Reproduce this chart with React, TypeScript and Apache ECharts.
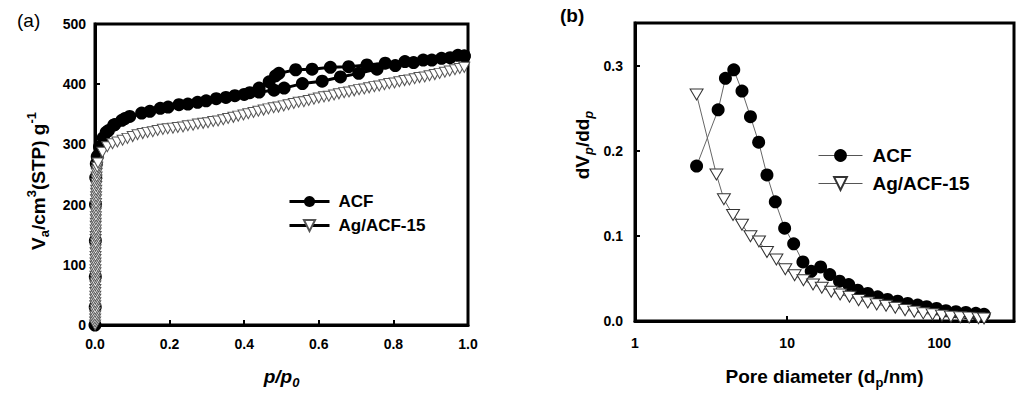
import React, { useEffect, useRef } from 'react';
import * as echarts from 'echarts';

const FONT = '"Liberation Sans", Arial, Helvetica, sans-serif';
const TRI = 'path://M0,0L10,0L5,8.66Z';

// (a) N2 isotherms: [p/p0, Va]
const acfAdsorption: [number, number][] = [
  [0, 0], [0.0006, 30], [0.0008, 80], [0.001, 140], [0.0013, 200], [0.002, 245], [0.0035, 268],
  [0.006, 280], [0.012, 296], [0.022, 311], [0.036, 323], [0.053, 333], [0.072, 340], [0.093, 346.5],
  [0.147, 355], [0.196, 362], [0.249, 367], [0.298, 372.5], [0.351, 378], [0.4, 383], [0.44, 387],
  [0.48, 390], [0.507, 393.5], [0.556, 401], [0.609, 405], [0.658, 412], [0.707, 418], [0.756, 425],
  [0.805, 431], [0.854, 436], [0.903, 440], [0.952, 444], [0.99, 447],
];
const acfDesorption: [number, number][] = [
  [0.99, 447], [0.973, 448], [0.929, 443], [0.88, 440], [0.831, 437.6], [0.778, 435], [0.729, 432],
  [0.68, 429], [0.631, 428], [0.582, 425], [0.538, 424], [0.493, 418], [0.484, 414], [0.467, 404],
  [0.44, 393.5], [0.415, 386], [0.375, 381], [0.325, 376], [0.275, 370], [0.225, 366], [0.175, 360],
  [0.125, 352], [0.08, 343], [0.05, 332], [0.03, 320],
];
const agIsotherm: [number, number][] = [
  [0.0003, 0], [0.0004, 5], [0.0005, 10], [0.0006, 15], [0.0006, 21], [0.0007, 26], [0.0007, 32],
  [0.0008, 37], [0.0008, 43], [0.0009, 48], [0.0009, 54], [0.001, 59], [0.001, 65], [0.0011, 70],
  [0.0011, 76], [0.0012, 81], [0.0012, 87], [0.0013, 92], [0.0013, 98], [0.0014, 103], [0.0014, 109],
  [0.0015, 114], [0.0015, 120], [0.0016, 125], [0.0016, 131], [0.0017, 136], [0.0018, 142],
  [0.0018, 147], [0.0019, 153], [0.002, 158], [0.002, 164], [0.0021, 169], [0.0022, 175],
  [0.0023, 180], [0.0024, 186], [0.0025, 191], [0.0026, 197], [0.0027, 202], [0.0028, 208],
  [0.003, 213], [0.0031, 219], [0.0033, 224], [0.0035, 230], [0.0037, 235], [0.004, 241],
  [0.0043, 246], [0.0047, 252], [0.0052, 257], [0.006, 262], [0.008, 269],
  [0.02, 287], [0.033, 296], [0.047, 301], [0.06, 304], [0.074, 307], [0.087, 310], [0.101, 313],
  [0.114, 316], [0.128, 318], [0.141, 320], [0.155, 321], [0.168, 323], [0.182, 325], [0.195, 326],
  [0.209, 327], [0.222, 328], [0.236, 329], [0.249, 331], [0.263, 332], [0.276, 334], [0.29, 335],
  [0.303, 336], [0.317, 338], [0.33, 339], [0.344, 341], [0.357, 343], [0.371, 345], [0.384, 347],
  [0.398, 349], [0.411, 351], [0.425, 353], [0.438, 355], [0.452, 357], [0.465, 359], [0.479, 361],
  [0.492, 362], [0.506, 364], [0.519, 366], [0.533, 368], [0.546, 370], [0.56, 371], [0.573, 373],
  [0.587, 375], [0.6, 377], [0.614, 379], [0.627, 380], [0.641, 382], [0.654, 384], [0.668, 386],
  [0.681, 387], [0.695, 389], [0.708, 391], [0.722, 392], [0.735, 394], [0.749, 396], [0.762, 397],
  [0.776, 399], [0.789, 401], [0.803, 402], [0.816, 404], [0.83, 406], [0.843, 407], [0.857, 409],
  [0.87, 411], [0.884, 412], [0.897, 414], [0.911, 416], [0.924, 418], [0.938, 420], [0.951, 422],
  [0.965, 424], [0.978, 426], [0.99, 428],
];

// (b) pore size distribution: [dp (nm), dVp/ddp]
const psdACF: [number, number][] = [
  [2.54, 0.182], [3.52, 0.248], [3.93, 0.285], [4.46, 0.295], [5.05, 0.27], [5.74, 0.24], [6.5, 0.21],
  [7.37, 0.1715], [8.36, 0.14], [9.63, 0.109], [11.04, 0.0907], [12.7, 0.0693], [14.4, 0.0584],
  [16.6, 0.0635], [19.06, 0.0545], [22.1, 0.0467], [25.4, 0.0428], [29.1, 0.0362], [33.9, 0.0323],
  [39.4, 0.0284], [45.7, 0.0253], [53.3, 0.0233], [62, 0.0206], [72.1, 0.0187], [82.6, 0.0168],
  [96, 0.0148], [110.7, 0.0121], [128.7, 0.011], [149.6, 0.0101], [174, 0.009], [197, 0.0078],
];
const psdAg: [number, number][] = [
  [2.54, 0.266], [3.43, 0.172], [3.84, 0.143], [4.41, 0.1245], [5.05, 0.113], [5.74, 0.0996],
  [6.53, 0.0934], [7.37, 0.081], [8.5, 0.0723], [9.73, 0.0607], [11.2, 0.0537], [12.8, 0.0478],
  [14.8, 0.0428], [16.9, 0.039], [19.5, 0.0343], [22.3, 0.0311], [25.7, 0.0284], [29.5, 0.0245],
  [33.9, 0.0218], [38.8, 0.0195], [44.7, 0.018], [51.4, 0.0156], [59.6, 0.0128], [68.5, 0.011],
  [78.5, 0.009], [90.4, 0.0078], [104.2, 0.0063], [119.3, 0.0051], [137.3, 0.0043], [157.3, 0.004],
  [181, 0.0032], [197, 0.003],
];

const legendNamesA = ['ACF', 'Ag/ACF-15'];
const legendNamesB = ['ACF ', 'Ag/ACF-15 '];
const logTickLabels = [1, 10, 100];

const axisLineStyle = { lineStyle: { color: '#000', width: 3 } };
const axisTickStyle = { inside: true, length: 5, lineStyle: { color: '#000', width: 2 } };
const labelBase = { color: '#000', fontWeight: 'bold' as const, fontSize: 14, fontFamily: FONT };

const richTitle = {
  b: { fontSize: 19, fontWeight: 'bold', fontFamily: FONT, fill: '#000', color: '#000', lineHeight: 26, verticalAlign: 'middle' },
  i: { fontSize: 19, fontWeight: 'bold', fontStyle: 'italic', fontFamily: FONT, fill: '#000', color: '#000', lineHeight: 26, verticalAlign: 'middle' },
  sub: { fontSize: 13, fontWeight: 'bold', fontFamily: FONT, fill: '#000', color: '#000', lineHeight: 13, verticalAlign: 'bottom' },
  isub: { fontSize: 13, fontWeight: 'bold', fontStyle: 'italic', fontFamily: FONT, fill: '#000', color: '#000', lineHeight: 13, verticalAlign: 'bottom' },
  sup: { fontSize: 13, fontWeight: 'bold', fontFamily: FONT, fill: '#000', color: '#000', lineHeight: 13, verticalAlign: 'top' },
};

export default function App() {
  const ref = useRef<HTMLDivElement>(null);
  useEffect(() => {
    document.body.style.margin = '0';
    const chart = echarts.init(ref.current!, null, { renderer: 'svg' });
    const option: any = {
      animation: false,
      backgroundColor: '#fff',
      grid: [
        { left: 95, top: 24, width: 373, height: 302, show: true, borderColor: '#000', borderWidth: 3 },
        { left: 635, top: 23, width: 379, height: 300, show: true, borderColor: '#000', borderWidth: 3 },
      ],
      xAxis: [
        {
          type: 'value', gridIndex: 0, min: 0, max: 1, interval: 0.2,
          axisLine: axisLineStyle, axisTick: axisTickStyle, splitLine: { show: false },
          axisLabel: { ...labelBase, margin: 12, formatter: (v: number) => v.toFixed(1) },
          name: '{i|p/p}{isub|0}', nameLocation: 'middle', nameGap: 38,
          nameTextStyle: { rich: richTitle },
        },
        {
          type: 'log', logBase: 10, gridIndex: 1, min: 1, max: 310,
          axisLine: axisLineStyle, axisTick: axisTickStyle, splitLine: { show: false }, minorTick: { show: false },
          axisLabel: {
            ...labelBase, margin: 15,
            formatter: (v: number) => (logTickLabels.includes(Math.round(v)) ? String(Math.round(v)) : ''),
          },
          name: '{b|Pore diameter (d}{sub|p}{b|/nm)}', nameLocation: 'middle', nameGap: 42,
          nameTextStyle: { rich: richTitle },
        },
      ],
      yAxis: [
        {
          type: 'value', gridIndex: 0, min: 0, max: 500, interval: 100,
          axisLine: axisLineStyle, axisTick: axisTickStyle, splitLine: { show: false },
          axisLabel: { ...labelBase, margin: 9 },
        },
        {
          type: 'value', gridIndex: 1, min: 0, max: 0.35, interval: 0.1,
          axisLine: axisLineStyle, axisTick: axisTickStyle, splitLine: { show: false },
          axisLabel: { ...labelBase, margin: 12, formatter: (v: number) => (v > 0.31 ? '' : v.toFixed(1)) },
        },
      ],
      legend: [
        {
          data: legendNamesA, orient: 'vertical', left: 288, top: 193, itemWidth: 40, itemHeight: 14, itemGap: 7,
          padding: 0, selectedMode: false,
          lineStyle: { color: '#000', width: 3 },
          textStyle: { fontSize: 17, fontWeight: 'bold', fontFamily: FONT, color: '#000', padding: [0, 0, 0, 4] },
        },
        {
          data: legendNamesB, orient: 'vertical', left: 818, top: 146, itemWidth: 44, itemHeight: 16, itemGap: 9,
          padding: 0, selectedMode: false,
          formatter: (n: string) => n.trim(),
          lineStyle: { color: '#555', width: 1 },
          textStyle: { fontSize: 19, fontWeight: 'bold', fontFamily: FONT, color: '#000', padding: [0, 0, 0, 5] },
        },
      ],
      graphic: [
        { type: 'text', left: 17, top: 11, style: { text: '(a)', fontSize: 19, fontFamily: FONT, fill: '#000' } },
        { type: 'text', left: 560, top: 6, style: { text: '(b)', fontSize: 19, fontWeight: 'bold', fontFamily: FONT, fill: '#000' } },
        {
          type: 'text', x: 38, y: 181, rotation: Math.PI / 2,
          style: {
            text: '{b|V}{sub|a}{b|/cm}{sup|3}{b|(STP) g}{sup|-1}', rich: richTitle,
            align: 'center', verticalAlign: 'middle',
          },
        },
        {
          type: 'text', x: 582, y: 145, rotation: Math.PI / 2,
          style: {
            text: '{b|dV}{isub|p}{b|/dd}{isub|p}', rich: richTitle,
            align: 'center', verticalAlign: 'middle',
          },
        },
      ],
      series: [
        {
          name: 'ACF', type: 'line', xAxisIndex: 0, yAxisIndex: 0, data: acfAdsorption,
          symbol: 'circle', symbolSize: 13, itemStyle: { color: '#000' }, lineStyle: { color: '#000', width: 3 }, z: 2,
        },
        {
          name: 'ACF', type: 'line', xAxisIndex: 0, yAxisIndex: 0, data: acfDesorption,
          symbol: 'circle', symbolSize: 13, itemStyle: { color: '#000' }, lineStyle: { color: '#000', width: 3 }, z: 2,
        },
        {
          name: 'Ag/ACF-15', type: 'line', xAxisIndex: 0, yAxisIndex: 0, data: agIsotherm,
          symbol: TRI, symbolSize: [11, 10],
          itemStyle: { color: '#fff', borderColor: '#555', borderWidth: 1 },
          lineStyle: { color: '#333', width: 1.5 }, z: 3,
        },
        {
          name: 'ACF ', type: 'line', xAxisIndex: 1, yAxisIndex: 1, data: psdACF,
          symbol: 'circle', symbolSize: 13, itemStyle: { color: '#000' }, lineStyle: { color: '#666', width: 1 }, z: 2,
        },
        {
          name: 'Ag/ACF-15 ', type: 'line', xAxisIndex: 1, yAxisIndex: 1, data: psdAg,
          symbol: TRI, symbolSize: [13, 11],
          itemStyle: { color: '#fff', borderColor: '#333', borderWidth: 1 },
          lineStyle: { color: '#666', width: 1 }, z: 3,
        },
      ],
    };
    chart.setOption(option);
    return () => chart.dispose();
  }, []);
  return <div ref={ref} style={{ width: 1018, height: 394 }} />;
}
